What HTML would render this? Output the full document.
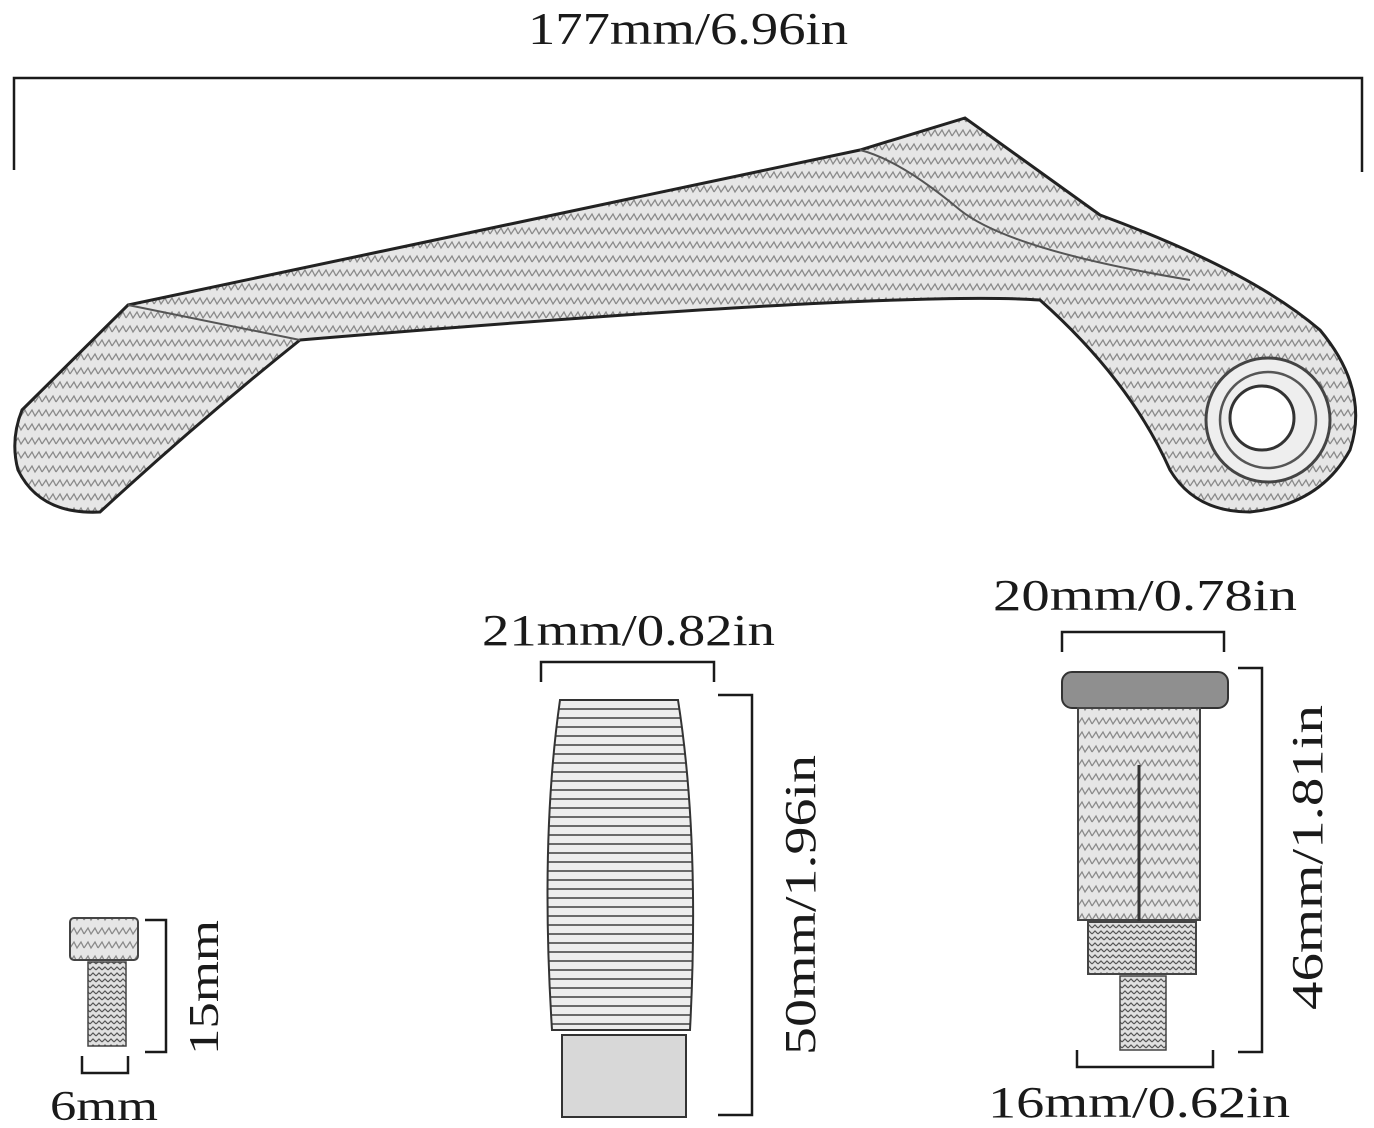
<!DOCTYPE html>
<html><head><meta charset="utf-8"><style>
html,body{margin:0;padding:0;background:#fff;}
svg{display:block;}
text{font-family:"Liberation Serif",serif;fill:#1a1a1a;}
</style></head><body>
<svg width="1374" height="1128" viewBox="0 0 1374 1128" xmlns="http://www.w3.org/2000/svg">
<defs>
<pattern id="cf" width="14" height="14" patternUnits="userSpaceOnUse">
<rect width="14" height="14" fill="#e6e6e6"/>
<path d="M0 10 L4 4 L7 10 L11 4 L14 10" stroke="#8a8a8a" stroke-width="1.3" fill="none"/>
</pattern>
<pattern id="rib" width="10" height="9" patternUnits="userSpaceOnUse">
<rect width="10" height="9" fill="#ededed"/>
<line x1="0" y1="7" x2="10" y2="7" stroke="#6a6a6a" stroke-width="2"/>
</pattern>
<pattern id="thr" width="6" height="6" patternUnits="userSpaceOnUse">
<rect width="6" height="6" fill="#e0e0e0"/>
<path d="M0 4 L3 1 L6 4" stroke="#555" stroke-width="1.2" fill="none"/>
</pattern>
</defs>
<g stroke="#1a1a1a" stroke-width="2.5" fill="none">
<path d="M14 170 V78 H1362 V172"/>
</g>
<text x="528" y="44" font-size="46" textLength="320" lengthAdjust="spacingAndGlyphs">177mm/6.96in</text>

<path d="M22 410 L128 305 L860 150 L965 118 Q1010 150 1100 215 Q1250 270 1320 330 Q1370 390 1350 450 Q1320 505 1250 512 Q1195 512 1170 470 Q1130 380 1040 300 Q900 290 300 340 Q200 420 100 512 Q40 515 18 470 Q10 440 22 410 Z" fill="url(#cf)" stroke="#222" stroke-width="3"/>
<path d="M128 305 L300 340 M860 150 Q900 160 960 210 Q1010 250 1190 280" stroke="#555" stroke-width="2" fill="none"/>
<circle cx="1268" cy="420" r="62" fill="#eee" stroke="#444" stroke-width="3"/>
<circle cx="1268" cy="420" r="48" fill="none" stroke="#555" stroke-width="2.5"/>
<circle cx="1262" cy="418" r="32" fill="#fff" stroke="#333" stroke-width="3"/>

<text x="482" y="645" font-size="44" textLength="293" lengthAdjust="spacingAndGlyphs">21mm/0.82in</text>
<path d="M541 682 V662 H714 V682" stroke="#1a1a1a" stroke-width="2.5" fill="none"/>
<path d="M560 700 H678 Q700 840 690 1030 H552 Q540 840 560 700 Z" fill="url(#rib)" stroke="#333" stroke-width="2"/>
<rect x="562" y="1035" width="124" height="82" fill="#d8d8d8" stroke="#333" stroke-width="2"/>
<path d="M718 695 H752 V1115 H718" stroke="#1a1a1a" stroke-width="2.5" fill="none"/>
<text transform="translate(815,1055) rotate(-90)" font-size="44" textLength="300" lengthAdjust="spacingAndGlyphs">50mm/1.96in</text>

<text x="993" y="610" font-size="44" textLength="304" lengthAdjust="spacingAndGlyphs">20mm/0.78in</text>
<path d="M1062 652 V632 H1224 V652" stroke="#1a1a1a" stroke-width="2.5" fill="none"/>
<rect x="1062" y="672" width="166" height="36" rx="10" fill="#8f8f8f" stroke="#333" stroke-width="2"/>
<rect x="1078" y="708" width="122" height="212" fill="url(#cf)" stroke="#444" stroke-width="2"/>
<line x1="1139" y1="765" x2="1139" y2="940" stroke="#333" stroke-width="3"/>
<rect x="1088" y="922" width="108" height="52" fill="url(#thr)" stroke="#444" stroke-width="2"/>
<rect x="1120" y="976" width="46" height="74" fill="url(#thr)" stroke="#444" stroke-width="1.5"/>
<path d="M1238 668 H1262 V1052 H1238" stroke="#1a1a1a" stroke-width="2.5" fill="none"/>
<text transform="translate(1322,1010) rotate(-90)" font-size="44" textLength="305" lengthAdjust="spacingAndGlyphs">46mm/1.81in</text>
<path d="M1077 1050 V1067 H1213 V1050" stroke="#1a1a1a" stroke-width="2.5" fill="none"/>
<text x="988" y="1117" font-size="44" textLength="302" lengthAdjust="spacingAndGlyphs">16mm/0.62in</text>

<rect x="70" y="918" width="68" height="42" rx="4" fill="url(#cf)" stroke="#444" stroke-width="2"/>
<rect x="88" y="962" width="38" height="84" fill="url(#thr)" stroke="#444" stroke-width="1.5"/>
<path d="M145 920 H166 V1052 H145" stroke="#1a1a1a" stroke-width="2.5" fill="none"/>
<text transform="translate(218,1055) rotate(-90)" font-size="42" textLength="135" lengthAdjust="spacingAndGlyphs">15mm</text>
<path d="M82 1056 V1073 H128 V1056" stroke="#1a1a1a" stroke-width="2.5" fill="none"/>
<text x="50" y="1120" font-size="42" textLength="108" lengthAdjust="spacingAndGlyphs">6mm</text>
</svg>
</body></html>
